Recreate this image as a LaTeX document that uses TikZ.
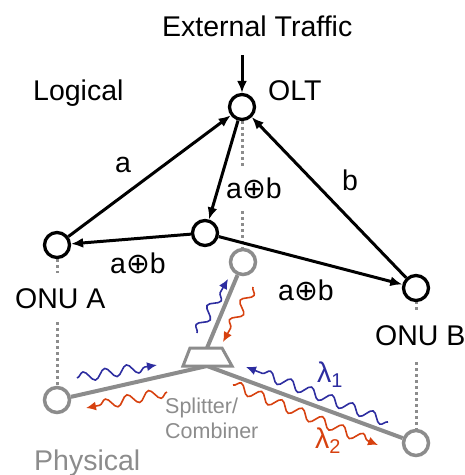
\documentclass[tikz,border=0pt]{standalone}
\usepackage{fontspec}
\setmainfont{Liberation Sans}
\newfontfamily\dvfont{DejaVu Sans}
\usetikzlibrary{arrows.meta,decorations.pathmorphing}
\definecolor{pgray}{RGB}{140,140,140}
\definecolor{wblue}{RGB}{45,45,160}
\definecolor{wred}{RGB}{215,65,15}
\newcommand{\xorsym}{{\dvfont ⊕}}
\begin{document}
\begin{tikzpicture}[x=1pt,y=-1pt,
 lnode/.style={circle,draw=black,line width=3.3pt,minimum size=25pt,inner sep=0pt},
 pnode/.style={circle,draw=pgray,line width=3.5pt,minimum size=25pt,inner sep=0pt},
 larrow/.style={line width=3pt,-{Latex[length=12pt,width=10pt]}},
 dotline/.style={pgray,line width=3pt,dash pattern=on 3pt off 3pt},
 fib/.style={pgray,line width=4pt},
 wave/.style={line width=1.6pt,decorate,decoration={snake,amplitude=5pt,segment length=22pt,post length=7pt},-{Latex[length=10pt,width=9pt]}},
 lab/.style={font=\fontsize{28.5}{30}\selectfont,inner sep=0pt,anchor=base west},
 slab/.style={font=\fontsize{21.5}{25}\selectfont,inner sep=0pt,anchor=base west,text=pgray},
]
\useasboundingbox (0,0) rectangle (465,475);

% dotted vertical links
\coordinate (d1a) at (242,121); \coordinate (d1b) at (242,167);
\coordinate (d1c) at (242,211); \coordinate (d1d) at (242,249);
\coordinate (d2a) at (57,259); \coordinate (d2b) at (57,273);
\coordinate (d2c) at (57,322); \coordinate (d2d) at (57,386);
\coordinate (d3a) at (416,301); \coordinate (d3b) at (416,312);
\coordinate (d3c) at (416,362); \coordinate (d3d) at (416,430);
\draw[dotline] (d1a) -- (d1b);
\draw[dotline] (d1c) -- (d1d);
\draw[dotline] (d2a) -- (d2b);
\draw[dotline] (d2c) -- (d2d);
\draw[dotline] (d3a) -- (d3b);
\draw[dotline] (d3c) -- (d3d);

% physical layer
\node[pnode] (polt) at (243,262) {};
\node[pnode] (pa) at (57,400) {};
\node[pnode] (pb) at (416,443) {};
\coordinate (spt) at (207,348);
\coordinate (spb) at (207,366);
\draw[fib] (spb) -- (pa);
\draw[fib] (spb) -- (pb);
\draw[fib] (spt) -- (polt);
\draw[pgray,line width=3pt,fill=white,line join=miter] (190,348) -- (222,348) -- (232,366) -- (183,366) -- cycle;

% wavy signals
\coordinate (w1s) at (197,333); \coordinate (w1e) at (228,279);
\coordinate (w2s) at (253,287); \coordinate (w2e) at (223,342);
\coordinate (w3s) at (77,378);  \coordinate (w3e) at (157,365);
\coordinate (w4s) at (167,392); \coordinate (w4e) at (86,408);
\coordinate (w5s) at (388,422); \coordinate (w5e) at (246,367);
\coordinate (w6s) at (233,385); \coordinate (w6e) at (378,445);
\draw[wave,wblue] (w1s) -- (w1e);
\draw[wave,wred] (w2s) -- (w2e);
\draw[wave,wblue] (w3s) -- (w3e);
\draw[wave,wred] (w4s) -- (w4e);
\draw[wave,wblue] (w5s) -- (w5e);
\draw[wave,wred] (w6s) -- (w6e);

% logical layer
\node[lnode] (olt) at (242,107) {};
\node[lnode] (onua) at (57,245) {};
\node[lnode] (mid) at (205,233) {};
\node[lnode] (onub) at (416,288) {};
\coordinate (ext) at (242,55);
\draw[larrow] (ext) -- (olt);
\draw[larrow] (onua) -- (olt);
\draw[larrow] (olt) -- (mid);
\draw[larrow] (mid) -- (onua);
\draw[larrow] (mid) -- (onub);
\draw[larrow] (onub) -- (olt);

% labels
\node[lab] (tExt) at (162,36) {External Traffic};
\node[lab] (tLog) at (33,100) {Logical};
\node[lab] (tOlt) at (268,100) {OLT};
\node[lab] (ta) at (115,172) {a};
\node[lab] (tb) at (342,190) {b};
\node[lab] (tx1) at (226,198) {a\xorsym b};
\node[lab] (tx2) at (110,273) {a\xorsym b};
\node[lab] (tx3) at (278,300) {a\xorsym b};
\node[lab] (tOa) at (15,308) {ONU A};
\node[lab] (tOb) at (375,345) {ONU B};
\node[lab,text=pgray] (tPhy) at (34,470) {Physical};
\node[slab] (tSp1) at (165,413) {Splitter/};
\node[slab] (tSp2) at (165,438) {Combiner};
\node[lab,text=wblue] (tl1) at (317,382) {λ\textsubscript{1}};
\node[lab,text=wred] (tl2) at (315,448) {λ\textsubscript{2}};
\end{tikzpicture}
\end{document}
